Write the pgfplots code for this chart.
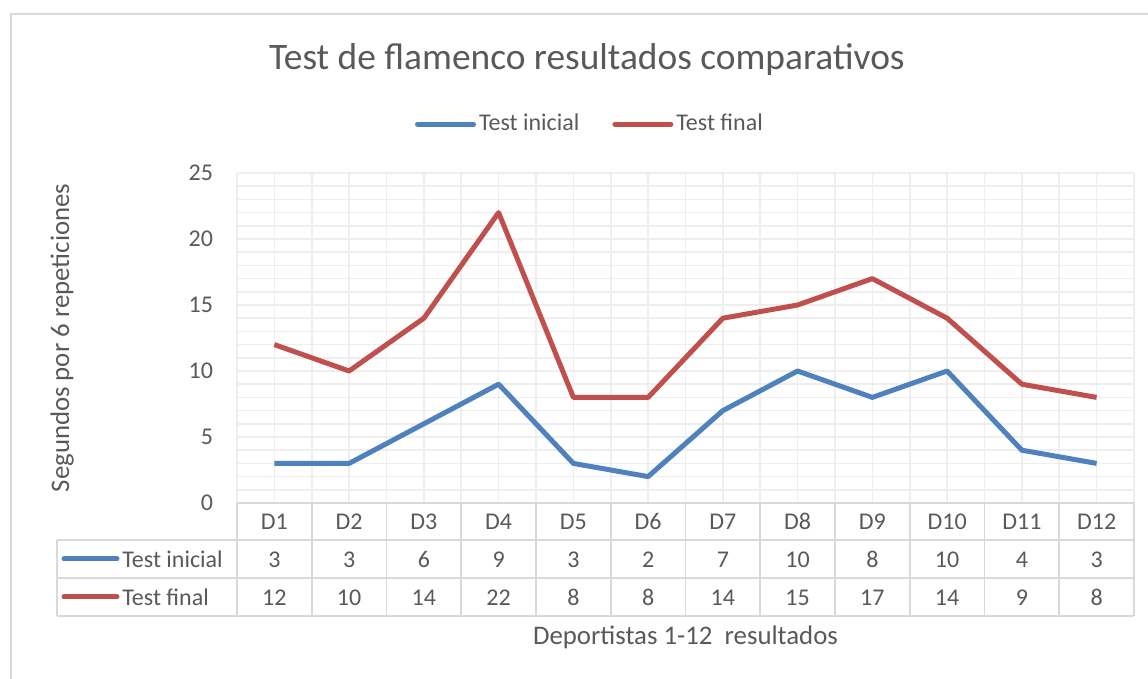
\documentclass[border=0pt]{standalone}
\usepackage{fontspec}
\setmainfont{Carlito}
\usepackage{pgfplots}
\usepackage{pgfplotstable}
\pgfplotsset{compat=1.18}

\definecolor{txt}{HTML}{595959}
\definecolor{serA}{HTML}{4F81BD}
\definecolor{serB}{HTML}{C0504D}
\definecolor{gridc}{HTML}{EEEEEE}
\definecolor{tabc}{HTML}{D9D9D9}

\pgfplotstableread{
x ini fin
1 3 12
2 3 10
3 6 14
4 9 22
5 3 8
6 2 8
7 7 14
8 10 15
9 8 17
10 10 14
11 4 9
12 3 8
}\datos

\newcommand{\fnt}{\fontsize{12}{14}\selectfont}

\begin{document}
\begin{tikzpicture}
% picture = 1148 x 679 px, 1 px = 0.5pt
\path[use as bounding box] (0,0) rectangle (574pt,-339.5pt);

\begin{axis}[
    at={(118.5pt,-251.5pt)}, anchor=south west,
    scale only axis,
    width=448.5pt, height=165pt,
    xmin=0.5, xmax=12.5, ymin=0, ymax=25,
    clip=false,
    axis line style={draw=none},
    major tick length=0pt, minor tick length=0pt,
    xtick={1,...,12},
    xticklabels={D1,D2,D3,D4,D5,D6,D7,D8,D9,D10,D11,D12},
    minor xtick={0.5,1.5,...,12.5},
    ytick={0,5,...,25},
    minor ytick={1,2,...,24},
    grid=both,
    major grid style={gridc, line width=0.8pt},
    minor grid style={gridc, line width=0.8pt},
    /pgf/number format/assume math mode=true,
    tick label style={font=\fnt, text=txt},
    xticklabel style={anchor=center, yshift=-10pt, text height=1.6ex, text depth=0.2ex},
    yticklabel style={xshift=-8.5pt},
    title={Test de flamenco resultados comparativos},
    title style={at={(axis description cs:0.39,1.276)}, anchor=base,
        font=\fontsize{18.7}{22}\selectfont, text=txt},
    xlabel={Deportistas 1-12\ \ resultados},
    xlabel style={at={(axis description cs:0.5,-0.406)}, anchor=center,
        font=\fontsize{13.4}{16}\selectfont, text=txt},
    ylabel={Segundos por 6 repeticiones},
    ylabel style={at={(axis description cs:-0.195,0.5)}, anchor=center,
        font=\fontsize{13.4}{16}\selectfont, text=txt},
    legend columns=2,
    legend style={draw=none, fill=none, at={(axis description cs:0.394,1.148)},
        anchor=center, font=\fnt, text=txt,
        nodes={inner xsep=1.5pt},
        /tikz/every even column/.append style={column sep=15pt}},
    legend image code/.code={\draw[#1, line cap=round] (0pt,0pt) -- (28pt,0pt);},
]
\addplot[serA, line width=2.5pt, line join=round, mark=none] table[x=x, y=ini] {\datos};
\addlegendentry{Test inicial}
\addplot[serB, line width=2.5pt, line join=round, mark=none] table[x=x, y=fin] {\datos};
\addlegendentry{Test final}

% data table values
\addplot[forget plot, draw=none, mark=none, nodes near coords, point meta=explicit,
    every node near coord/.append style={anchor=center, font=\fnt, text=txt,
        text height=1.6ex, text depth=0.2ex}]
    table[x=x, y expr=-4.39, meta=ini] {\datos};
\addplot[forget plot, draw=none, mark=none, nodes near coords, point meta=explicit,
    every node near coord/.append style={anchor=center, font=\fnt, text=txt,
        text height=1.6ex, text depth=0.2ex}]
    table[x=x, y expr=-7.27, meta=fin] {\datos};
\end{axis}

\begin{scope}[x=0.5pt, y=-0.5pt]
  % chart border
  \draw[tabc, line width=0.8pt] (11,679) -- (11,14) -- (1148,14);
  % table grid
  \draw[tabc, line width=0.8pt] (237,503) -- (1134,503);
  \foreach \yy in {540,578,616} \draw[tabc, line width=0.8pt] (57,\yy) -- (1134,\yy);
  \draw[tabc, line width=0.8pt] (57,540) -- (57,616);
  \foreach \k in {0,...,12} \draw[tabc, line width=0.8pt] (237+74.75*\k,503) -- (237+74.75*\k,616);
  % row keys
  \draw[serA, line width=2.5pt, line cap=round] (64,559) -- (117,559);
  \node[anchor=west, font=\fnt, text=txt, inner sep=0pt, text height=1.6ex, text depth=0.2ex] at (122,561) {Test inicial};
  \draw[serB, line width=2.5pt, line cap=round] (64,597) -- (117,597);
  \node[anchor=west, font=\fnt, text=txt, inner sep=0pt, text height=1.6ex, text depth=0.2ex] at (122,599) {Test final};
\end{scope}
\end{tikzpicture}
\end{document}
